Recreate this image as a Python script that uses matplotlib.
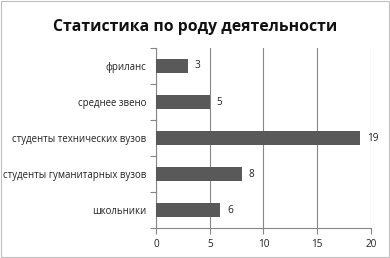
import matplotlib
matplotlib.use("Agg")
import matplotlib.pyplot as plt
from matplotlib.patches import Rectangle

categories = ["школьники", "студенты гуманитарных вузов", "студенты технических вузов", "среднее звено", "фриланс"]
values = [6, 8, 19, 5, 3]
xticks = [0, 5, 10, 15, 20]

plt.rcParams['font.family'] = ['Open Sans', 'DejaVu Sans']

fig = plt.figure(figsize=(3.9, 2.58), dpi=100)
fig.patch.set_facecolor('white')
fig.add_artist(Rectangle((0.003, 0.003), 0.994, 0.994, transform=fig.transFigure,
                         fill=False, edgecolor='#bfbfbf', linewidth=0.8))
ax = fig.add_axes([0.4, 0.116, 0.551, 0.698])
y = list(range(len(categories)))
ax.barh(y, values, height=0.4, color='#595959', zorder=3)
for yi, v in zip(y, values):
    ax.text(v + 0.6, yi, str(v), va='center', ha='left', fontsize=7.2, color='#222222')
ax.set_xlim(0, 20)
ax.set_ylim(-0.5, len(categories) - 0.5)
ax.set_xticks(xticks)
ax.set_xticklabels([str(t) for t in xticks], fontsize=7.2, color='#222222')
ax.set_yticks(y)
ax.set_yticklabels(categories, fontsize=6.9, color='#222222')
ax.set_yticks([i + 0.5 for i in range(-1, len(categories))], minor=True)
ax.tick_params(axis='y', which='major', length=0, pad=7)
ax.tick_params(axis='y', which='minor', length=4, color='#868686', width=0.8)
ax.tick_params(axis='x', length=4, color='#868686', width=0.8, pad=4)
ax.grid(axis='x', color='#868686', linewidth=0.8, zorder=0)
for s in ['top', 'right']:
    ax.spines[s].set_visible(False)
for s in ['left', 'bottom']:
    ax.spines[s].set_color('#868686')
    ax.spines[s].set_linewidth(0.8)
fig.text(0.5, 0.895, "Статистика по роду деятельности", ha='center', va='center',
         fontsize=11.3, fontweight='bold', color='#111111')
fig.savefig("out.png", dpi=100)
